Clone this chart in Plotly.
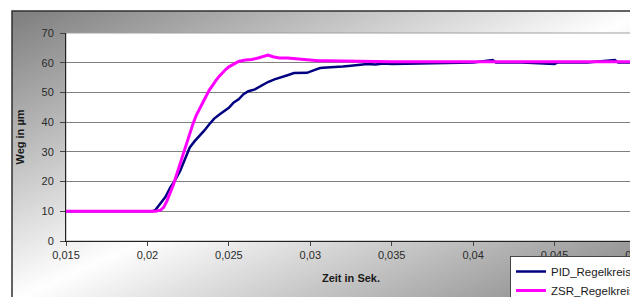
import base64
import struct
import zlib

import plotly.graph_objects as go

# ---------------- data ----------------
pid_t = [0.015, 0.0203, 0.0205, 0.0208, 0.0211, 0.0214, 0.0217, 0.0220, 0.0223, 0.0226,
         0.0229, 0.0232, 0.0235, 0.0238, 0.0241, 0.0244, 0.0247, 0.0250, 0.0253, 0.0256,
         0.0259, 0.0262, 0.0266, 0.0270, 0.0274, 0.0278, 0.0282, 0.0286, 0.0290, 0.0294,
         0.0298, 0.0302, 0.0306, 0.0310, 0.0315, 0.0320, 0.0325, 0.0330, 0.0335, 0.0340,
         0.0345, 0.0350, 0.0360, 0.0370, 0.0380, 0.0400, 0.0412, 0.0414, 0.0430, 0.0450,
         0.0452, 0.0470, 0.0487, 0.0489, 0.0500]
pid_weg = [10.0, 10.0, 10.5, 12.5, 14.8, 18.0, 20.5, 23.5, 27.5, 31.5,
           33.6, 35.3, 37.2, 39.3, 41.2, 42.5, 43.6, 44.8, 46.6, 47.7,
           49.4, 50.4, 51.0, 52.2, 53.5, 54.4, 55.0, 55.8, 56.5, 56.6,
           56.6, 57.4, 58.2, 58.4, 58.5, 58.7, 59.0, 59.2, 59.6, 59.4,
           59.7, 59.6, 59.7, 60.0, 60.1, 60.1, 60.9, 60.1, 60.1, 59.6,
           60.1, 60.1, 60.9, 60.1, 60.1]

zsr_t = [0.015, 0.0205, 0.0208, 0.0210, 0.0212, 0.0214, 0.0216, 0.0218, 0.0220, 0.0222,
         0.0224, 0.0226, 0.0228, 0.0230, 0.0232, 0.0234, 0.0236, 0.0238, 0.0240, 0.0242,
         0.0244, 0.0246, 0.0248, 0.0250, 0.0253, 0.0256, 0.0260, 0.0264, 0.0268, 0.0272,
         0.0274, 0.0277, 0.0281, 0.0286, 0.0290, 0.0295, 0.0300, 0.0305, 0.0310, 0.0320,
         0.0330, 0.0340, 0.0350, 0.0400, 0.0500]
zsr_weg = [10.0, 10.0, 10.4, 11.3, 13.5, 16.0, 19.0, 22.5, 26.0, 29.5,
           33.0, 36.5, 39.5, 42.3, 44.6, 46.5, 48.7, 50.8, 52.5, 54.0,
           55.4, 56.6, 57.7, 58.6, 59.6, 60.4, 60.9, 61.1, 61.6, 62.3,
           62.6, 62.0, 61.6, 61.6, 61.4, 61.3, 60.9, 60.7, 60.7, 60.6,
           60.5, 60.5, 60.3, 60.3, 60.3]

series_names = ["PID_Regelkreis", "ZSR_Regelkreis"]
x_tickvals = [0.015, 0.02, 0.025, 0.03, 0.035, 0.04, 0.045, 0.05]
x_ticktext = ["0,015", "0,02", "0,025", "0,03", "0,035", "0,04", "0,045", "0,05"]
y_tickvals = [0, 10, 20, 30, 40, 50, 60, 70]
x_title = "Zeit in Sek."
y_title = "Weg in µm"

# ---------------- layout geometry ----------------
W, H = 638, 297
ML, MR, MT, MB = 58, 10, 25, 64
PW, PH = W - ML - MR, H - MT - MB


def px_x(px):
    return (px - ML) / PW


def px_y(py):
    return (H - MB - py) / PH


# ---------------- gradient background image ----------------
def gradient_png(w, h):
    rows = []
    for j in range(h):
        v = j / (h - 1)
        row = bytearray([0])
        for i in range(w):
            u = i / (w - 1)
            t = abs(u + v - 1.0)
            g = int(round(255 - 128 * t))
            row += bytes([g, g, g])
        rows.append(bytes(row))
    raw = b"".join(rows)

    def chunk(tag, data):
        c = struct.pack(">I", len(data)) + tag + data
        return c + struct.pack(">I", zlib.crc32(tag + data) & 0xFFFFFFFF)

    png = b"\x89PNG\r\n\x1a\n"
    png += chunk(b"IHDR", struct.pack(">IIBBBBB", w, h, 8, 2, 0, 0, 0))
    png += chunk(b"IDAT", zlib.compress(raw, 9))
    png += chunk(b"IEND", b"")
    return "data:image/png;base64," + base64.b64encode(png).decode()


bg_src = gradient_png(160, 80)

FONT = "Liberation Sans, Arial, sans-serif"

fig = go.Figure()
fig.add_trace(go.Scatter(x=pid_t, y=pid_weg, mode="lines", name=series_names[0],
                         legendgroup="a",
                         line=dict(color="#000080", width=2.5)))
fig.add_trace(go.Scatter(x=zsr_t, y=zsr_weg, mode="lines", name=series_names[1],
                         legendgroup="b",
                         line=dict(color="#FF00FF", width=3)))

fig.update_layout(
    width=W, height=H,
    margin=dict(l=ML, r=MR, t=MT, b=MB, autoexpand=False),
    paper_bgcolor="white",
    plot_bgcolor="white",
    font=dict(family=FONT, size=11, color="#2a2a2a"),
    showlegend=True,
    legend=dict(
        x=px_x(502), y=px_y(248), xanchor="left", yanchor="top",
        bgcolor="white", bordercolor="#444444", borderwidth=1,
        font=dict(family=FONT, size=11.5, color="#1a1a1a"),
        itemwidth=30, tracegroupgap=0,
    ),
    images=[dict(
        source=bg_src, xref="paper", yref="paper",
        x=px_x(4), y=px_y(3), sizex=634 / PW, sizey=291 / PH,
        xanchor="left", yanchor="top", sizing="stretch", layer="below",
    )],
    shapes=[
        dict(type="rect", xref="paper", yref="paper", x0=0, x1=1, y0=0, y1=1,
             fillcolor="white", line=dict(color="#a0a0a0", width=1), layer="below"),
        dict(type="rect", xref="paper", yref="paper",
             x0=px_x(4), x1=px_x(660), y0=px_y(294), y1=px_y(3),
             fillcolor="rgba(0,0,0,0)", line=dict(color="#303030", width=1.5),
             layer="below"),
    ],
)

fig.update_xaxes(
    range=[0.015, 0.05], tickmode="array", tickvals=x_tickvals, ticktext=x_ticktext,
    ticklabeloverflow="allow",
    showgrid=False, zeroline=False,
    showline=True, linecolor="#222222", linewidth=1,
    ticks="outside", ticklen=4, tickcolor="#444444",
    tickfont=dict(family=FONT, size=11, color="#2a2a2a"),
    title=dict(text="<b>" + x_title + "</b>", standoff=14,
               font=dict(family=FONT, size=11, color="#1a1a1a")),
)
fig.update_yaxes(
    range=[0, 70], tickmode="array", tickvals=y_tickvals,
    showgrid=True, gridcolor="#808080", gridwidth=1,
    zeroline=False,
    showline=True, linecolor="#222222", linewidth=1,
    ticks="outside", ticklen=5, tickcolor="#444444", ticklabelstandoff=4,
    tickfont=dict(family=FONT, size=11, color="#2a2a2a"),
    title=dict(text="<b>" + y_title + "</b>", standoff=14,
               font=dict(family=FONT, size=11, color="#1a1a1a")),
)

fig.write_html("out.html")
